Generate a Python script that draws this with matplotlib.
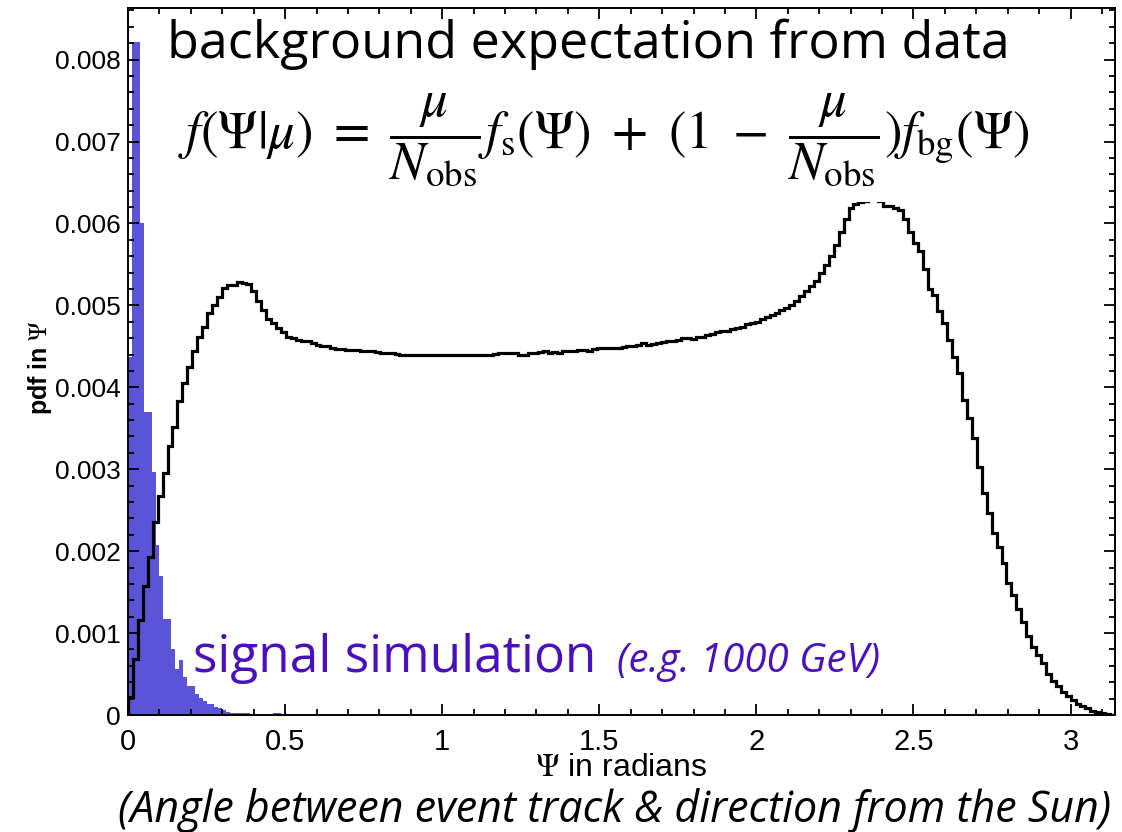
import matplotlib
matplotlib.use("Agg")
import matplotlib.pyplot as plt
from matplotlib.ticker import MultipleLocator
import numpy as np

# background pdf from data: 200 bins over [0, pi]
bg_pdf = [
    0.00022, 0.00068, 0.00116, 0.00158, 0.00193, 0.00236, 0.00267, 0.00295, 0.00328, 0.00352,
    0.00383, 0.00405, 0.00425, 0.00444, 0.00462, 0.00474, 0.00491, 0.00501, 0.00510, 0.00521,
    0.00525, 0.00525, 0.00528, 0.00527, 0.00526, 0.00517, 0.00505, 0.00494, 0.00483, 0.00478,
    0.00472, 0.00467, 0.00462, 0.00460, 0.00458, 0.00456, 0.00456, 0.00454, 0.00452, 0.00450,
    0.00450, 0.00448, 0.00447, 0.00447, 0.00446, 0.00445, 0.00445, 0.00444, 0.00444, 0.00444,
    0.00443, 0.00442, 0.00442, 0.00442, 0.00441, 0.00440, 0.00440, 0.00440, 0.00440, 0.00440,
    0.00440, 0.00440, 0.00440, 0.00440, 0.00440, 0.00440, 0.00440, 0.00440, 0.00440, 0.00440,
    0.00440, 0.00440, 0.00440, 0.00440, 0.00441, 0.00442, 0.00442, 0.00442, 0.00442, 0.00440,
    0.00440, 0.00442, 0.00442, 0.00443, 0.00444, 0.00442, 0.00443, 0.00442, 0.00444, 0.00444,
    0.00444, 0.00446, 0.00446, 0.00444, 0.00447, 0.00448, 0.00448, 0.00448, 0.00448, 0.00448,
    0.00449, 0.00450, 0.00450, 0.00452, 0.00454, 0.00452, 0.00453, 0.00454, 0.00455, 0.00456,
    0.00457, 0.00458, 0.00460, 0.00460, 0.00459, 0.00462, 0.00462, 0.00464, 0.00465, 0.00467,
    0.00469, 0.00469, 0.00471, 0.00473, 0.00474, 0.00477, 0.00478, 0.00480, 0.00483, 0.00486,
    0.00488, 0.00491, 0.00494, 0.00497, 0.00500, 0.00505, 0.00511, 0.00517, 0.00524, 0.00530,
    0.00539, 0.00549, 0.00560, 0.00574, 0.00590, 0.00605, 0.00619, 0.00624, 0.00626, 0.00627,
    0.00634, 0.00634, 0.00627, 0.00621, 0.00621, 0.00619, 0.00617, 0.00605, 0.00590, 0.00576,
    0.00566, 0.00545, 0.00520, 0.00513, 0.00493, 0.00479, 0.00458, 0.00437, 0.00417, 0.00385,
    0.00362, 0.00338, 0.00303, 0.00271, 0.00247, 0.00222, 0.00205, 0.00185, 0.00161, 0.00146,
    0.00130, 0.00114, 0.00096, 0.00083, 0.00073, 0.00063, 0.00050, 0.00042, 0.00035, 0.00028,
    0.00023, 0.00018, 0.00014, 0.00011, 0.00009, 0.00005, 0.00004, 0.00002, 0.00001, 0.00000,
]

# signal simulation pdf, bins of 0.0125 rad starting at 0
sig_binwidth = 0.0125
sig_pdf = [
    0.00437, 0.00822, 0.00822, 0.00601, 0.00370, 0.00370, 0.00297, 0.00207, 0.00170, 0.00117,
    0.00117, 0.00080, 0.00056, 0.00067, 0.00046, 0.00035, 0.00035, 0.00026, 0.00021, 0.00017,
    0.00014, 0.00014, 0.00010, 0.00008, 0.00006, 0.00004, 0.00003, 0.00002, 0.00003, 0.00003,
    0.00002, 0.00001, 0.00000, 0.00000, 0.00000, 0.00000, 0.00000, 0.00003, 0.00003, 0.00000,
]

xticks = [0, 0.5, 1, 1.5, 2, 2.5, 3]
xticklabels = ['0', '0.5', '1', '1.5', '2', '2.5', '3']
yticks = [0, 0.001, 0.002, 0.003, 0.004, 0.005, 0.006, 0.007, 0.008]
yticklabels = ['0', '0.001', '0.002', '0.003', '0.004', '0.005', '0.006', '0.007', '0.008']

plt.rcParams['mathtext.fontset'] = 'stix'
plt.rcParams['font.family'] = ['Liberation Sans', 'DejaVu Sans']

fig = plt.figure(figsize=(11.22, 8.32), dpi=100)
ax = fig.add_axes([0.1141, 0.1406, 0.8797, 0.8498])

sig_edges = np.arange(len(sig_pdf) + 1) * sig_binwidth
ax.stairs(sig_pdf, sig_edges, fill=True, color='#5a55d8', lw=0, zorder=1)

bg_edges = np.linspace(0, np.pi, len(bg_pdf) + 1)
ax.stairs(bg_pdf, bg_edges, color='black', lw=2.3, zorder=2)

ax.set_xlim(0, np.pi)
ax.set_ylim(0, 0.00863)
ax.set_xticks(xticks)
ax.set_xticklabels(xticklabels, fontsize=21)
ax.set_yticks(yticks)
ax.set_yticklabels(yticklabels, fontsize=19)
ax.xaxis.set_minor_locator(MultipleLocator(0.1))
ax.yaxis.set_minor_locator(MultipleLocator(0.0002))
ax.tick_params(which='both', direction='in', top=True, right=True, width=1.3)
ax.tick_params(which='major', length=8, pad=5)
ax.tick_params(axis='x', which='major', pad=9)
ax.tick_params(which='minor', length=4.5)
for sp in ax.spines.values():
    sp.set_linewidth(1.4)

ax.set_xlabel(r'$\Psi$ in radians', fontsize=23)
ax.xaxis.set_label_coords(0.5, -0.054)
fig.text(0.036, 0.558, r'pdf in $\Psi$', rotation=90, fontsize=18,
         fontweight='bold', ha='center', va='center')

# annotations
fig.text(0.524, 0.947, 'background expectation from data', fontsize=37.5,
         family='Open Sans', ha='center', va='center', color='black')
# white box behind the formula hides the top of the background peak
ax.text(0.538, 0.832,
        r'$f(\Psi|\mu)\ =\ \dfrac{\mu}{N_{\rm obs}}f_{\rm s}(\Psi)\ +\ (1\ -\ \dfrac{\mu}{N_{\rm obs}})f_{\rm bg}(\Psi)$',
        transform=fig.transFigure, fontsize=38, ha='center', va='center',
        bbox=dict(facecolor='white', edgecolor='none', pad=10), zorder=5)

fig.text(0.172, 0.208, 'signal simulation', fontsize=37, family='Open Sans',
         color='#4a10c0', ha='left', va='center')
fig.text(0.55, 0.205, '(e.g. 1000 GeV)', fontsize=29, family='Open Sans',
         style='italic', color='#4a10c0', ha='left', va='center')

fig.text(0.548, 0.026, '(Angle between event track & direction from the Sun)',
         fontsize=31, family='Open Sans', style='italic', ha='center', va='center')

fig.savefig('out.png', dpi=100)
